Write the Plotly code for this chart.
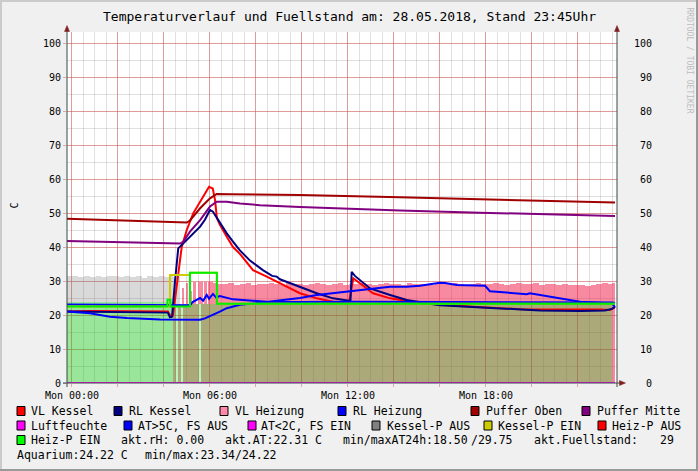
import plotly.graph_objects as go

# ---------------- data (time in hours since Mon 00:00) ----------------
x_tick_vals = [0, 2, 4, 6, 8, 10, 12, 14, 16, 18, 20, 22]
x_tick_text = ["Mon 00:00", "", "", "Mon 06:00", "", "", "Mon 12:00", "", "", "Mon 18:00", "", ""]
y_tick_vals = [0, 10, 20, 30, 40, 50, 60, 70, 80, 90, 100]

vl_kessel_t = [-0.22, 0.78, 4.17, 4.30, 4.39, 4.55, 4.77, 4.99, 5.27, 5.70, 5.96, 6.12, 6.22, 6.30, 6.43,
               6.73, 7.00, 7.30, 7.87, 8.47, 9.17, 9.91, 10.64, 11.35, 11.94, 12.04, 12.23, 12.74, 13.09,
               13.83, 15.26, 17.43, 19.48, 22.96, 23.39, 23.61]
vl_kessel_v = [21.0, 21.2, 21.0, 19.5, 19.8, 28.3, 40.0, 45.0, 49.9, 54.8, 57.7, 57.2, 53.8, 48.5, 46.5,
               43.0, 40.0, 38.0, 33.2, 31.3, 28.8, 26.4, 24.9, 23.9, 23.4, 23.3, 30.8, 28.3, 26.4,
               24.9, 23.4, 22.4, 21.7, 21.6, 21.5, 22.3]

rl_kessel_t = [-0.22, 1.22, 4.17, 4.26, 4.35, 4.48, 4.62, 4.83, 5.13, 5.57, 5.78, 6.00, 6.13, 6.43, 6.73,
               7.00, 7.30, 7.74, 8.30, 8.70, 8.90, 9.04, 9.91, 10.64, 11.35, 12.04, 12.11, 12.16, 12.30,
               12.96, 13.83, 14.55, 16.00, 18.17, 20.35, 22.09, 23.17, 23.48, 23.61]
rl_kessel_v = [21.0, 20.9, 20.7, 19.3, 19.5, 30.0, 39.6, 41.0, 43.0, 46.0, 48.0, 50.9, 50.4, 47.0, 44.0,
               41.6, 39.0, 36.0, 33.2, 31.5, 31.3, 30.5, 28.3, 26.4, 24.9, 24.2, 24.4, 32.7, 31.5,
               27.8, 25.9, 24.4, 22.9, 22.0, 21.3, 21.2, 21.3, 21.8, 22.4]

rl_heizung_t = [-0.22, 4.17, 5.13, 5.26, 5.43, 5.57, 5.70, 5.86, 5.96, 6.13, 6.26, 6.43, 7.00, 8.47,
                9.91, 12.09, 16.43, 20.78, 23.48, 23.61]
rl_heizung_v = [23.1, 23.0, 22.9, 23.9, 24.5, 25.0, 24.2, 25.9, 24.8, 26.2, 25.2, 25.6, 24.6, 23.9,
                23.8, 23.9, 23.8, 23.8, 23.7, 23.5]

aussen_t = [-0.22, 0.78, 1.65, 2.39, 3.83, 5.57, 5.78, 6.13, 6.43, 6.73, 7.30, 8.17, 9.04, 9.91, 10.64,
            11.35, 12.09, 13.09, 13.83, 14.55, 15.13, 16.00, 16.22, 16.73, 17.52, 17.96, 18.17, 19.17,
            19.77, 19.91, 20.64, 21.35, 22.09, 22.96, 23.48, 23.61]
aussen_v = [21.0, 20.5, 19.5, 19.1, 18.7, 18.6, 19.0, 20.0, 21.0, 22.0, 23.0, 23.6, 24.2, 25.0, 25.9,
            26.4, 26.9, 27.8, 28.3, 28.3, 28.6, 29.5, 29.4, 28.8, 28.8, 28.6, 27.0, 26.4,
            26.1, 26.4, 25.6, 24.6, 23.9, 23.6, 23.4, 22.3]

puffer_oben_t = [-0.22, 4.99, 5.13, 5.27, 5.57, 6.00, 6.29, 6.87, 9.91, 14.26, 18.61, 23.61]
puffer_oben_v = [48.3, 47.2, 47.8, 48.9, 51.4, 54.3, 55.6, 55.5, 55.3, 54.6, 53.9, 53.1]

puffer_mitte_t = [-0.22, 4.70, 4.83, 5.13, 5.57, 6.00, 6.29, 6.73, 7.30, 8.17, 9.91, 12.09, 14.26,
                  17.74, 20.78, 23.61]
puffer_mitte_v = [41.8, 41.0, 41.5, 44.5, 47.9, 51.9, 53.3, 53.3, 52.8, 52.3, 51.8, 51.2, 50.7,
                  50.1, 49.6, 49.1]

luftfeuchte_t = [-0.22, 23.61]
luftfeuchte_v = [0.0, 0.0]

heizp_ein_t = [-0.22, 4.15, 4.28, 5.13, 6.30, 23.61]
heizp_ein_v = [22.5, 24.5, 22.5, 32.4, 23.3, 23.3]

kesselp_ein_t = [-0.22, 4.26, 5.13, 6.30, 23.61]
kesselp_ein_v = [22.5, 31.8, 32.4, 23.3, 23.3]

# background band (grey while boiler pump off, pink = VL Heizung band)
grey_start = [-0.22] + [0.03 + 0.25 * i for i in range(18)] + [4.37]
grey_end = grey_start[1:] + [4.70]
grey_top = [31.4, 31.6, 31.2, 31.5, 31.3, 31.6, 31.1, 31.4, 31.5, 31.2, 31.6, 31.3, 31.4, 31.0,
            31.5, 31.3, 31.6, 31.2, 31.4, 31.3]
grey_base = [23.9] * 19 + [23.3]

pink_start = [4.80, 4.96, 5.13, 5.26, 5.46, 5.74, 5.91, 6.13] + [6.30 + 0.25 * i for i in range(68)] + [23.30, 23.48]
pink_end = [4.87, 5.04, 5.20, 5.39, 5.70, 5.87, 6.13, 6.30] + [6.55 + 0.25 * i for i in range(68)] + [23.48, 23.61]
pink_top = [28.0, 29.5, 27.0, 29.8, 29.6, 29.8, 29.7, 29.5,
            29.2, 29.0, 29.4, 28.9, 29.1, 29.3, 28.8, 29.2, 29.0, 29.5, 29.1, 28.9,
            29.3, 29.0, 29.2, 28.8, 29.1, 29.4, 29.0, 28.9, 29.2, 29.3, 28.8, 29.1,
            29.0, 29.3, 29.1, 28.9, 29.2, 29.4, 29.0, 29.1, 28.8, 29.3, 29.1, 29.0,
            29.2, 28.9, 29.3, 29.1, 29.0, 29.4, 29.2, 28.9, 29.1, 29.5, 29.2, 29.0,
            29.3, 29.1, 28.9, 29.2, 29.4, 29.0, 29.1, 29.3, 28.9, 29.0, 29.2, 28.8,
            29.1, 28.9, 28.7, 28.8, 28.6, 28.9, 29.0, 29.4,
            29.2, 29.4]
pink_base = [23.3] * 77 + [0.0]

green_start = [-0.22]
green_end = [4.37]
green_top = [23.9]

olive_start = [4.37, 4.61, 4.83, 5.63]
olive_end = [4.52, 4.74, 5.52, 23.48]
olive_top = [23.3, 23.3, 23.3, 23.3]

lgreen_start = [4.52, 4.74, 5.52]
lgreen_end = [4.61, 4.83, 5.63]
lgreen_top = [23.3, 23.3, 23.3]

legend_rows = [
    [("VL Kessel", "#ff0000", 17, 30), ("RL Kessel", "#000080", 114, 128), ("VL Heizung", "#ff88aa", 220, 234),
     ("RL Heizung", "#0000ff", 338, 352), ("Puffer Oben", "#a00000", 471, 485), ("Puffer Mitte", "#800080", 582, 596)],
    [("Luftfeuchte", "#ff00ff", 17, 30), ("AT>5C, FS AUS", "#0000ff", 124, 137), ("AT<2C, FS EIN", "#ff00ff", 248, 260),
     ("Kessel-P AUS", "#808080", 372, 386), ("Kessel-P EIN", "#cccc00", 484, 497), ("Heiz-P AUS", "#ff0000", 598, 611)],
    [("Heiz-P EIN", "#00ff00", 17, 30)],
]
legend_row_y = [411, 425.5, 440, 454.5]
info_texts = [("akt.rH: 0.00", 120, 2), ("akt.AT:22.31 C", 224, 2), ("min/maxAT24h:18.50", 342, 2),
              ("/29.75", 470, 2), ("akt.Fuellstand:", 533, 2), ("29", 659, 2),
              ("Aquarium:24.22 C", 16, 3), ("min/max:23.34/24.22", 144, 3)]

# ---------------- geometry helpers ----------------
PL, PR, PT, PB = 67, 617, 32, 383
X0, X1 = -0.217, 23.696
Y0, Y1 = 0.0, (PB - PT) / 3.4
FONT = "DejaVu Sans Mono"


def fx(px):
    return (px - PL) / (PR - PL)


def fy(py):
    return (PB - py) / (PB - PT)


def seg_bar(starts, ends, tops, bases, color):
    return go.Bar(
        x=[(a + b) / 2 for a, b in zip(starts, ends)],
        width=[b - a for a, b in zip(starts, ends)],
        y=[t - b for t, b in zip(tops, bases)],
        base=bases,
        marker=dict(color=color, line=dict(width=0)),
        hoverinfo="skip",
    )


fig = go.Figure()
fig.add_trace(seg_bar(grey_start, grey_end, grey_top, grey_base, "rgba(120,120,120,0.28)"))
fig.add_trace(seg_bar(pink_start, pink_end, pink_top, pink_base, "rgba(240,40,82,0.55)"))
fig.add_trace(seg_bar(green_start, green_end, green_top, [0] * len(green_top), "rgba(28,197,28,0.45)"))
fig.add_trace(seg_bar(olive_start, olive_end, olive_top, [0] * len(olive_top), "rgba(115,110,33,0.6)"))
fig.add_trace(seg_bar(lgreen_start, lgreen_end, lgreen_top, [0] * len(lgreen_top), "rgba(55,212,55,0.33)"))


def line(t, v, color, shape="linear"):
    fig.add_trace(go.Scatter(x=t, y=v, mode="lines", line=dict(color=color, width=2, shape=shape),
                             hoverinfo="skip"))


line(vl_kessel_t, vl_kessel_v, "#ff0000")
line(rl_kessel_t, rl_kessel_v, "#000080")
line(rl_heizung_t, rl_heizung_v, "#0000ff")
line(aussen_t, aussen_v, "#0000ff")
line(puffer_oben_t, puffer_oben_v, "#a00000")
line(puffer_mitte_t, puffer_mitte_v, "#800080")
line(luftfeuchte_t, luftfeuchte_v, "#ff00ff")
line(kesselp_ein_t, kesselp_ein_v, "#cccc00", "hv")
line(heizp_ein_t, heizp_ein_v, "#00ee00", "hv")

MAJOR = "rgba(225,70,70,0.45)"
MINOR = "rgba(140,140,140,0.27)"

fig.update_layout(
    width=698, height=471, autosize=False,
    margin=dict(l=PL, r=698 - PR, t=PT, b=471 - PB, pad=0),
    paper_bgcolor="#f0f0f0", plot_bgcolor="#ffffff",
    template="none", barmode="overlay", bargap=0, showlegend=False,
    font=dict(family=FONT, size=10, color="#000000"),
    xaxis=dict(range=[X0, X1], tickmode="array", tickvals=x_tick_vals, ticktext=x_tick_text,
               showgrid=True, gridcolor=MAJOR, gridwidth=1, zeroline=False, showline=False,
               ticks="outside", ticklen=3, tickcolor=MAJOR, tickfont=dict(family=FONT, size=10),
               minor=dict(tickmode="linear", tick0=0, dtick=0.5, showgrid=True, gridcolor=MINOR, ticks=""),
               fixedrange=True),
    yaxis=dict(range=[Y0, Y1], tickmode="array", tickvals=y_tick_vals,
               ticktext=[str(v) for v in y_tick_vals],
               showgrid=True, gridcolor=MAJOR, gridwidth=1, zeroline=False, showline=False,
               ticks="outside", ticklen=3, tickcolor=MAJOR, tickfont=dict(family=FONT, size=10),
               minor=dict(tickmode="linear", tick0=0, dtick=5, showgrid=True, gridcolor=MINOR, ticks=""),
               fixedrange=True),
)

shapes = []
AX = "#3a4a45"
ARROW = "#7f1f1f"
# canvas shading border
shapes.append(dict(type="rect", xref="paper", yref="paper", x0=fx(0), x1=fx(698), y0=fy(471), y1=fy(469),
                   fillcolor="#999999", line=dict(width=0), layer="above"))
shapes.append(dict(type="rect", xref="paper", yref="paper", x0=fx(696), x1=fx(698), y0=fy(471), y1=fy(0),
                   fillcolor="#999999", line=dict(width=0), layer="above"))
shapes.append(dict(type="rect", xref="paper", yref="paper", x0=fx(0), x1=fx(696), y0=fy(2), y1=fy(0),
                   fillcolor="#cbcbcb", line=dict(width=0), layer="above"))
shapes.append(dict(type="rect", xref="paper", yref="paper", x0=fx(0), x1=fx(2), y0=fy(469), y1=fy(0),
                   fillcolor="#cbcbcb", line=dict(width=0), layer="above"))
# axis lines
shapes.append(dict(type="line", xref="paper", yref="paper", x0=fx(67), x1=fx(67), y0=fy(387), y1=fy(29),
                   line=dict(color=AX, width=1)))
shapes.append(dict(type="line", xref="paper", yref="paper", x0=fx(617), x1=fx(617), y0=fy(387), y1=fy(29),
                   line=dict(color=AX, width=1)))
shapes.append(dict(type="line", xref="paper", yref="paper", x0=fx(63), x1=fx(621), y0=fy(383), y1=fy(383),
                   line=dict(color=AX, width=1)))


def tri(pts):
    p = "M " + " L ".join(f"{fx(a)},{fy(b)}" for a, b in pts) + " Z"
    return dict(type="path", xref="paper", yref="paper", path=p, fillcolor=ARROW, line=dict(color=ARROW, width=0.5))


shapes.append(tri([(64.5, 31.5), (69.5, 31.5), (67, 25.5)]))
shapes.append(tri([(614.5, 31.5), (619.5, 31.5), (617, 25.5)]))
shapes.append(tri([(619.5, 380.5), (619.5, 385.5), (625.5, 383)]))

annotations = []
annotations.append(dict(text="Temperaturverlauf und Fuellstand am: 28.05.2018, Stand 23:45Uhr",
                        xref="paper", yref="paper", x=fx(349.5), y=fy(17), xanchor="center", yanchor="middle",
                        showarrow=False, font=dict(family=FONT, size=13, color="#000000"), borderpad=0))
annotations.append(dict(text="C", xref="paper", yref="paper", x=fx(13.5), y=fy(206), textangle=-90,
                        xanchor="center", yanchor="middle", showarrow=False,
                        font=dict(family=FONT, size=10, color="#000000"), borderpad=0))
annotations.append(dict(text="RRDTOOL / TOBI OETIKER", xref="paper", yref="paper", x=fx(688.5), y=fy(61),
                        textangle=90, xanchor="center", yanchor="middle", showarrow=False,
                        font=dict(family=FONT, size=8, color="#bdbdbd"), borderpad=0))
# right axis tick labels
for v in y_tick_vals:
    annotations.append(dict(text=str(v), xref="paper", yref="y", x=fx(652.5), y=v, xanchor="right",
                            yanchor="middle", showarrow=False, font=dict(family=FONT, size=10, color="#000000"),
                            borderpad=0))
# legend
for row_i, row in enumerate(legend_rows):
    yc = legend_row_y[row_i]
    for label, col, bx, tx in row:
        shapes.append(dict(type="rect", xref="paper", yref="paper", x0=fx(bx), x1=fx(bx + 8),
                           y0=fy(yc + 4.5), y1=fy(yc - 4.5), fillcolor=col,
                           line=dict(color="#000000", width=1)))
        annotations.append(dict(text=label, xref="paper", yref="paper", x=fx(tx), y=fy(yc), xanchor="left",
                                yanchor="middle", showarrow=False,
                                font=dict(family=FONT, size=11.5, color="#000000"), borderpad=0))
for txt, tx, row_i in info_texts:
    annotations.append(dict(text=txt, xref="paper", yref="paper", x=fx(tx), y=fy(legend_row_y[row_i]),
                            xanchor="left", yanchor="middle", showarrow=False,
                            font=dict(family=FONT, size=11.5, color="#000000"), borderpad=0))

fig.update_layout(shapes=shapes, annotations=annotations)
fig.write_html("out.html", config={"displayModeBar": False},
               post_script="document.body.style.margin='0';")
